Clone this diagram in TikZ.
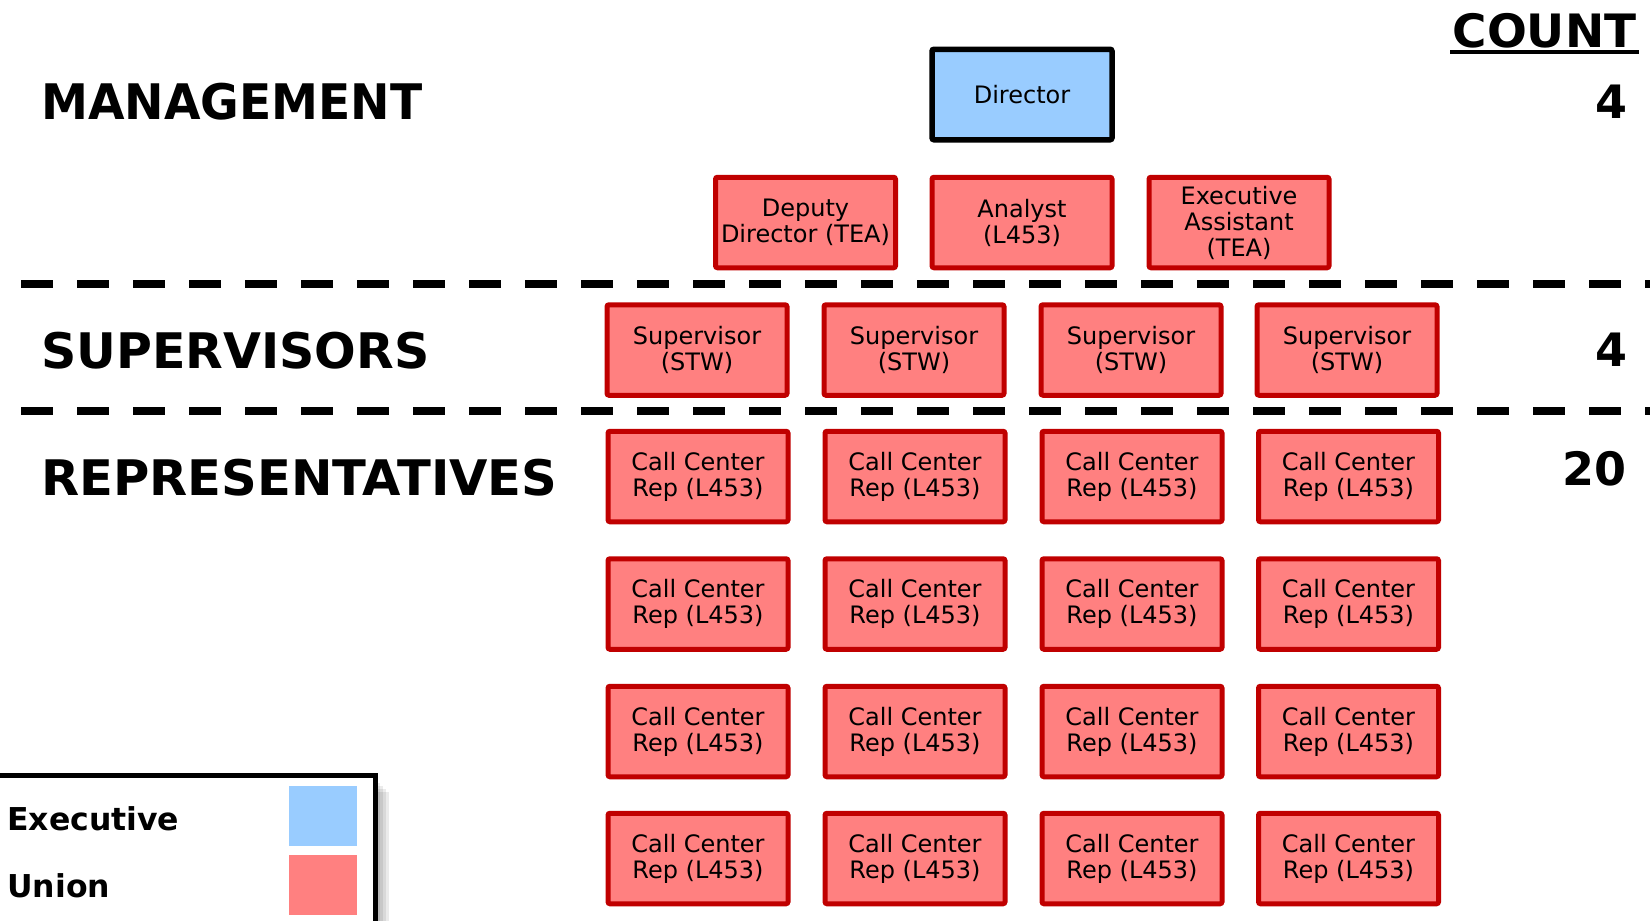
\documentclass[tikz,border=0pt]{standalone}
\usepackage{fontspec}
\usepackage{graphicx}
\setmainfont{DejaVu Sans}
\definecolor{execblue}{HTML}{99CCFF}
\definecolor{unionfill}{HTML}{FF8080}
\definecolor{unionedge}{HTML}{C00000}
\begin{document}
\begin{tikzpicture}[x=1pt,y=-1pt,
  role/.style={draw=unionedge, fill=unionfill, line width=5pt, rounded corners=2pt,
    minimum width=180pt, minimum height=90.5pt, inner sep=0pt, align=center,
    font=\fontsize{24}{26}\selectfont},
  execrole/.style={role, draw=black, line width=5.5pt, fill=execblue},
  tier/.style={anchor=base west, inner sep=0pt, font=\bfseries\fontsize{49}{55}\selectfont},
  tally/.style={anchor=base east, inner sep=0pt, font=\bfseries\fontsize{46}{50}\selectfont},
  divider/.style={line width=8pt, dash pattern=on 32pt off 24pt},
  legendtext/.style={anchor=base west, inner sep=0pt, font=\bfseries\fontsize{31.5}{36}\selectfont},
  swatch/.style={inner sep=0pt, minimum width=68pt, minimum height=60pt}]
\useasboundingbox (0,0) rectangle (1650,921);

% tier headings
\node[tier] (mgmt) at (41,119) {\scalebox{0.963}[1]{MANAGEMENT}};
\node[tier] (sups) at (41,368) {SUPERVISORS};
\node[tier] (reps) at (41,495) {\scalebox{1.012}[1]{REPRESENTATIVES}};

% count column
\node[anchor=base, inner sep=0pt, font=\bfseries\fontsize{46}{50}\selectfont] (counthead) at (1544.5,47) {\scalebox{1.02}[1]{COUNT}};
\draw[line width=4pt] ([xshift=-2pt,yshift=-4.5pt]counthead.base west) -- ([xshift=2pt,yshift=-4.5pt]counthead.base east);
\node[tally] (nmgmt) at (1628,118) {4};
\node[tally] (nsups) at (1628,366) {4};
\node[tally] (nreps) at (1627,485) {20};

% tier dividers
\coordinate (d1a) at (21,284);  \coordinate (d1b) at (1660,284);
\coordinate (d2a) at (21,411);  \coordinate (d2b) at (1660,411);
\draw[divider] (d1a) -- (d1b);
\draw[divider] (d2a) -- (d2b);

% management
\node[execrole] (director) at (1022,94.5) {Director};
\node[role] (deputy) at (805.5,222.5) {Deputy\\Director (TEA)};
\node[role] (analyst) at (1022,222.5) {Analyst\\(L453)};
\node[role] (assistant) at (1239,222.5) {Executive\\Assistant\\(TEA)};

% supervisors
\foreach \c/\x in {1/697,2/914,3/1131,4/1347}
  \node[role] (sup\c) at (\x,350) {Supervisor\\(STW)};

% representatives
\foreach \r/\y in {1/476.5,2/604,3/731.5,4/858.5}
  \foreach \c/\x in {1/698,2/915,3/1132,4/1348.5}
    \node[role] (rep\r\c) at (\x,\y) {Call Center\\Rep (L453)};

% legend
\foreach \w in {3,6,9,12}
  \fill[black, opacity=0.08] (377,780+\w) rectangle (377+\w,930);
\draw[line width=5pt, fill=white] (-10,775.5) rectangle (375,935);
\node[legendtext] (lgexec) at (7,830) {Executive};
\node[legendtext] (lgunion) at (7,897) {Union};
\node[swatch, fill=execblue] (swexec) at (323,816) {};
\node[swatch, fill=unionfill] (swunion) at (323,884.5) {};
\end{tikzpicture}
\end{document}
